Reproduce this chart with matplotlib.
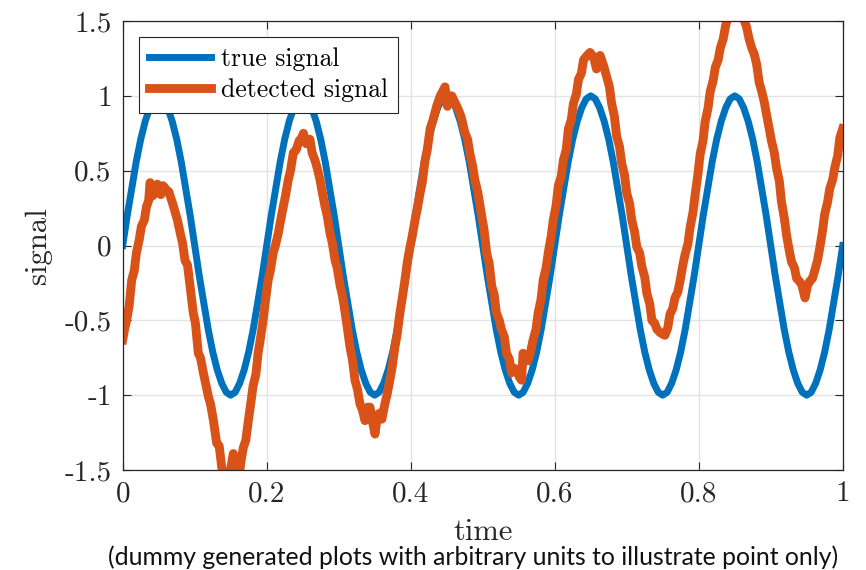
import matplotlib
matplotlib.use("Agg")
import matplotlib.pyplot as plt
from matplotlib.ticker import FixedLocator, FixedFormatter

plt.rcParams['font.family'] = ['cmr10', 'DejaVu Serif']
plt.rcParams['mathtext.fontset'] = 'cm'
plt.rcParams['axes.unicode_minus'] = False

# true signal, sampled every 1/160 of the time axis
time_true = [i / 160 for i in range(161)]
true_signal = [
    0, 0.2, 0.38, 0.56, 0.71, 0.83, 0.92, 0.98, 1, 0.98, 0.92, 0.83, 0.71, 0.56, 0.38, 0.2,
    0, -0.2, -0.38, -0.56, -0.71, -0.83, -0.92, -0.98, -1, -0.98, -0.92, -0.83, -0.71, -0.56, -0.38, -0.2,
    0, 0.2, 0.38, 0.56, 0.71, 0.83, 0.92, 0.98, 1, 0.98, 0.92, 0.83, 0.71, 0.56, 0.38, 0.2,
    0, -0.2, -0.38, -0.56, -0.71, -0.83, -0.92, -0.98, -1, -0.98, -0.92, -0.83, -0.71, -0.56, -0.38, -0.2,
    0, 0.2, 0.38, 0.56, 0.71, 0.83, 0.92, 0.98, 1, 0.98, 0.92, 0.83, 0.71, 0.56, 0.38, 0.2,
    0, -0.2, -0.38, -0.56, -0.71, -0.83, -0.92, -0.98, -1, -0.98, -0.92, -0.83, -0.71, -0.56, -0.38, -0.2,
    0, 0.2, 0.38, 0.56, 0.71, 0.83, 0.92, 0.98, 1, 0.98, 0.92, 0.83, 0.71, 0.56, 0.38, 0.2,
    0, -0.2, -0.38, -0.56, -0.71, -0.83, -0.92, -0.98, -1, -0.98, -0.92, -0.83, -0.71, -0.56, -0.38, -0.2,
    0, 0.2, 0.38, 0.56, 0.71, 0.83, 0.92, 0.98, 1, 0.98, 0.92, 0.83, 0.71, 0.56, 0.38, 0.2,
    0, -0.2, -0.38, -0.56, -0.71, -0.83, -0.92, -0.98, -1, -0.98, -0.92, -0.83, -0.71, -0.56, -0.38, -0.2,
    0,
]

# detected signal (noisy)
time_detected = [
    0.000, 0.003, 0.0055, 0.009, 0.0125, 0.016, 0.019, 0.023, 0.026, 0.030,
    0.033, 0.036, 0.038, 0.041, 0.045, 0.048, 0.050, 0.053, 0.056, 0.061,
    0.064, 0.066, 0.070, 0.073, 0.076, 0.080, 0.083, 0.0865, 0.090, 0.0935,
    0.098, 0.101, 0.105, 0.108, 0.112, 0.115, 0.119, 0.122, 0.126, 0.1305,
    0.134, 0.1375, 0.142, 0.148, 0.1536, 0.157, 0.1606, 0.164, 0.1675, 0.171,
    0.1745, 0.178, 0.181, 0.185, 0.188, 0.191, 0.195, 0.198, 0.202, 0.205,
    0.209, 0.212, 0.216, 0.219, 0.223, 0.226, 0.230, 0.233, 0.237, 0.241,
    0.245, 0.2486, 0.251, 0.255, 0.260, 0.263, 0.267, 0.270, 0.274, 0.277,
    0.281, 0.284, 0.288, 0.291, 0.295, 0.298, 0.302, 0.305, 0.309, 0.312,
    0.3157, 0.319, 0.3226, 0.326, 0.3296, 0.333, 0.3365, 0.340, 0.3435, 0.347,
    0.3504, 0.354, 0.357, 0.360, 0.364, 0.367, 0.371, 0.374, 0.378, 0.381,
    0.385, 0.388, 0.392, 0.395, 0.399, 0.402, 0.406, 0.409, 0.413, 0.416,
    0.420, 0.423, 0.427, 0.431, 0.436, 0.441, 0.4476, 0.451, 0.454, 0.457,
    0.461, 0.466, 0.470, 0.4755, 0.479, 0.482, 0.486, 0.489, 0.493, 0.4986,
    0.502, 0.5055, 0.509, 0.5125, 0.516, 0.519, 0.523, 0.526, 0.530, 0.533,
    0.537, 0.540, 0.544, 0.547, 0.551, 0.554, 0.556, 0.560, 0.563, 0.567,
    0.570, 0.574, 0.577, 0.581, 0.584, 0.588, 0.591, 0.595, 0.598, 0.602,
    0.605, 0.609, 0.612, 0.616, 0.619, 0.623, 0.626, 0.630, 0.633, 0.637,
    0.640, 0.645, 0.649, 0.654, 0.658, 0.663, 0.668, 0.672, 0.676, 0.679,
    0.683, 0.686, 0.690, 0.693, 0.697, 0.700, 0.704, 0.707, 0.711, 0.714,
    0.718, 0.721, 0.725, 0.728, 0.732, 0.735, 0.739, 0.742, 0.746, 0.749,
    0.753, 0.757, 0.760, 0.764, 0.767, 0.771, 0.774, 0.778, 0.781, 0.785,
    0.788, 0.792, 0.795, 0.799, 0.802, 0.806, 0.809, 0.813, 0.816, 0.820,
    0.823, 0.827, 0.830, 0.834, 0.837, 0.844, 0.851, 0.858, 0.862, 0.8665,
    0.870, 0.8736, 0.877, 0.8805, 0.884, 0.8875, 0.891, 0.894, 0.898, 0.901,
    0.905, 0.908, 0.912, 0.915, 0.919, 0.922, 0.926, 0.929, 0.933, 0.936,
    0.940, 0.943, 0.9476, 0.951, 0.954, 0.958, 0.961, 0.965, 0.968, 0.972,
    0.975, 0.979, 0.982, 0.986, 0.989, 0.993, 0.996, 1.000,
]
detected_signal = [
    -0.63, -0.55, -0.50, -0.40, -0.23, -0.17, -0.05, 0.04, 0.13, 0.17,
    0.26, 0.30, 0.42, 0.33, 0.35, 0.41, 0.38, 0.34, 0.40, 0.37,
    0.36, 0.33, 0.27, 0.22, 0.17, 0.08, 0.02, -0.10, -0.13, -0.27,
    -0.45, -0.52, -0.72, -0.75, -0.85, -0.92, -1.01, -1.06, -1.17, -1.32,
    -1.34, -1.48, -1.6, -1.55, -1.39, -1.45, -1.6, -1.45, -1.35, -1.30,
    -1.17, -1.05, -0.94, -0.86, -0.72, -0.63, -0.50, -0.38, -0.23, -0.17,
    -0.05, 0.00, 0.08, 0.16, 0.26, 0.33, 0.44, 0.50, 0.62, 0.64,
    0.70, 0.72, 0.75, 0.68, 0.71, 0.62, 0.57, 0.52, 0.44, 0.36,
    0.26, 0.20, 0.08, 0.02, -0.10, -0.15, -0.27, -0.33, -0.45, -0.55,
    -0.68, -0.76, -0.90, -0.96, -1.06, -1.10, -1.17, -1.08, -1.08, -1.18,
    -1.26, -1.13, -1.12, -1.16, -1.06, -1.00, -0.90, -0.82, -0.68, -0.60,
    -0.45, -0.36, -0.23, -0.12, -0.01, 0.06, 0.17, 0.24, 0.35, 0.42,
    0.57, 0.64, 0.78, 0.84, 0.93, 1.00, 1.06, 0.93, 1.00, 1.00,
    0.96, 0.91, 0.86, 0.75, 0.71, 0.62, 0.53, 0.44, 0.36, 0.20,
    0.10, -0.05, -0.12, -0.27, -0.33, -0.45, -0.50, -0.56, -0.61, -0.72,
    -0.76, -0.85, -0.82, -0.83, -0.88, -0.90, -0.72, -0.76, -0.77, -0.70,
    -0.63, -0.56, -0.45, -0.36, -0.23, -0.15, -0.05, 0.06, 0.17, 0.27,
    0.40, 0.46, 0.57, 0.64, 0.78, 0.84, 0.95, 1.01, 1.11, 1.15,
    1.24, 1.27, 1.29, 1.26, 1.18, 1.27, 1.20, 1.13, 1.06, 0.95,
    0.86, 0.73, 0.66, 0.55, 0.47, 0.35, 0.28, 0.17, 0.09, -0.01,
    -0.05, -0.14, -0.21, -0.32, -0.39, -0.50, -0.52, -0.56, -0.58, -0.59,
    -0.60, -0.55, -0.46, -0.42, -0.35, -0.31, -0.24, -0.13, -0.06, 0.01,
    0.12, 0.22, 0.34, 0.48, 0.61, 0.70, 0.83, 0.92, 1.03, 1.10,
    1.19, 1.24, 1.32, 1.38, 1.46, 1.6, 1.62, 1.6, 1.52, 1.46,
    1.38, 1.32, 1.28, 1.21, 1.09, 1.03, 0.96, 0.88, 0.78, 0.70,
    0.62, 0.52, 0.43, 0.29, 0.18, 0.07, -0.04, -0.11, -0.15, -0.22,
    -0.24, -0.26, -0.35, -0.27, -0.24, -0.22, -0.17, -0.10, -0.02, 0.10,
    0.21, 0.29, 0.38, 0.44, 0.52, 0.60, 0.72, 0.78,
]

x_ticks = [0, 0.2, 0.4, 0.6, 0.8, 1]
x_tick_labels = ['0', '0.2', '0.4', '0.6', '0.8', '1']
y_ticks = [-1.5, -1, -0.5, 0, 0.5, 1, 1.5]
y_tick_labels = ['-1.5', '-1', '-0.5', '0', '0.5', '1', '1.5']

dark = '#262626'

fig = plt.figure(figsize=(8.66, 5.70), dpi=100)
ax = fig.add_axes([0.1417, 0.1754, 0.8314, 0.7877])

ax.plot(time_true, true_signal, color='#0072BD', lw=5.0, label='true signal',
        solid_joinstyle='round')
ax.plot(time_detected, detected_signal, color='#D95319', lw=6.4, label='detected signal',
        solid_joinstyle='round')

ax.set_xlim(0, 1)
ax.set_ylim(-1.5, 1.5)
ax.xaxis.set_major_locator(FixedLocator(x_ticks))
ax.xaxis.set_major_formatter(FixedFormatter(x_tick_labels))
ax.yaxis.set_major_locator(FixedLocator(y_ticks))
ax.yaxis.set_major_formatter(FixedFormatter(y_tick_labels))

ax.grid(True, color='#e3e3e3', lw=1.0)
ax.set_axisbelow(True)
ax.tick_params(direction='in', length=6, width=0.8, colors=dark, labelsize=21,
               top=True, right=True, pad=8)
for s in ax.spines.values():
    s.set_color(dark)
    s.set_linewidth(0.9)

ax.set_xlabel('time', fontsize=22, color=dark, labelpad=8)
ax.set_ylabel('signal', fontsize=22, color=dark, labelpad=9)

leg = ax.legend(loc='upper left', bbox_to_anchor=(16 / 720, 1 - 16 / 449),
                borderaxespad=0, fontsize=18.5, frameon=True, fancybox=False,
                framealpha=1, edgecolor=dark, handlelength=2.4, handletextpad=0.4,
                borderpad=0.4, labelspacing=0.3)
leg.get_frame().set_linewidth(0.8)

cap = fig.text(108 / 866, 5 / 570,
               '(dummy generated plots with arbitrary units to illustrate point only)',
               family=['Lato', 'DejaVu Sans'], fontsize=19, color='#111111',
               ha='left', va='baseline')
# fit the caption to its width in the picture
fig.canvas.draw()
w = cap.get_window_extent().width
cap.set_fontsize(19 * 731 / w)

fig.savefig('out.png', dpi=100)
